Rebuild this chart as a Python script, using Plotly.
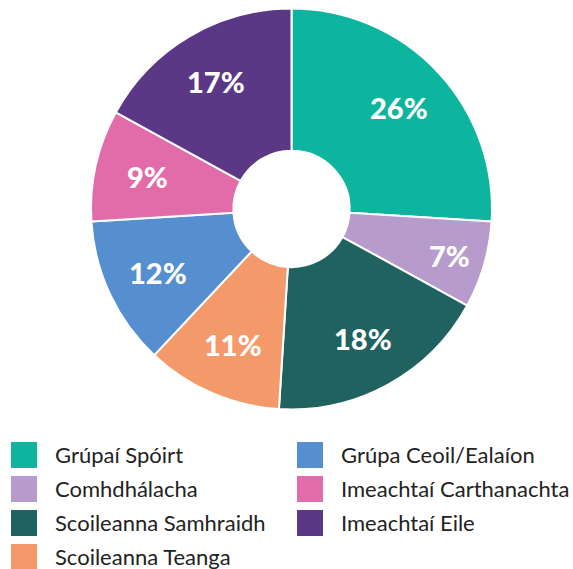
import math
import plotly.graph_objects as go

categories = ["Grúpaí Spóirt", "Comhdhálacha", "Scoileanna Samhraidh", "Scoileanna Teanga",
              "Grúpa Ceoil/Ealaíon", "Imeachtaí Carthanachta", "Imeachtaí Eile"]
values = [26, 7, 18, 11, 12, 9, 17]
colors = ["#0DB49E", "#B89BCD", "#1F6260", "#F4996A", "#568FD0", "#E26CAA", "#5B3886"]

W, H = 573, 569
cx, cy, r = 291.5, 209, 200.5

fig = go.Figure(go.Pie(
    labels=categories, values=values, sort=False, direction="clockwise", rotation=0,
    hole=0.29,
    marker=dict(colors=colors, line=dict(color="white", width=2)),
    textinfo="none",
    showlegend=False, hoverinfo="label+value",
    domain=dict(x=[(cx - r) / W, (cx + r) / W], y=[(H - cy - r) / H, (H - cy + r) / H]),
))

annos, shapes = [], []
# percentage labels placed at each slice's mid-angle
total = sum(values)
cum = 0
for v in values:
    mid = (cum + v / 2) / total * 2 * math.pi
    cum += v
    rl = 148 if v >= 9 else 165
    px = cx + rl * math.sin(mid)
    py = cy - rl * math.cos(mid)
    annos.append(dict(text=f"{v}%", xref="paper", yref="paper", x=px / W, y=(H - py) / H,
                      xanchor="center", yanchor="middle", showarrow=False,
                      font=dict(family="Lato", size=29, color="white", weight=900)))

# custom two-column legend
col_x = [11, 297]
row_y = [455, 489, 523, 557]
sq = 26
for i, (lab, col) in enumerate(zip(categories, colors)):
    c = 0 if i < 4 else 1
    rr = i if i < 4 else i - 4
    x0 = col_x[c]
    yc = row_y[rr]
    shapes.append(dict(type="rect", xref="paper", yref="paper",
                       x0=x0 / W, x1=(x0 + sq) / W,
                       y0=(H - yc - sq / 2) / H, y1=(H - yc + sq / 2) / H,
                       fillcolor=col, line=dict(width=0)))
    annos.append(dict(text=lab, xref="paper", yref="paper", x=(x0 + 42) / W, y=(H - yc + 1) / H,
                      xanchor="left", yanchor="middle", showarrow=False,
                      font=dict(family="Lato", size=22, color="#222222")))

fig.update_layout(width=W, height=H, margin=dict(l=0, r=0, t=0, b=0),
                  paper_bgcolor="white", plot_bgcolor="white",
                  shapes=shapes, annotations=annos)
fig.write_html("out.html")
